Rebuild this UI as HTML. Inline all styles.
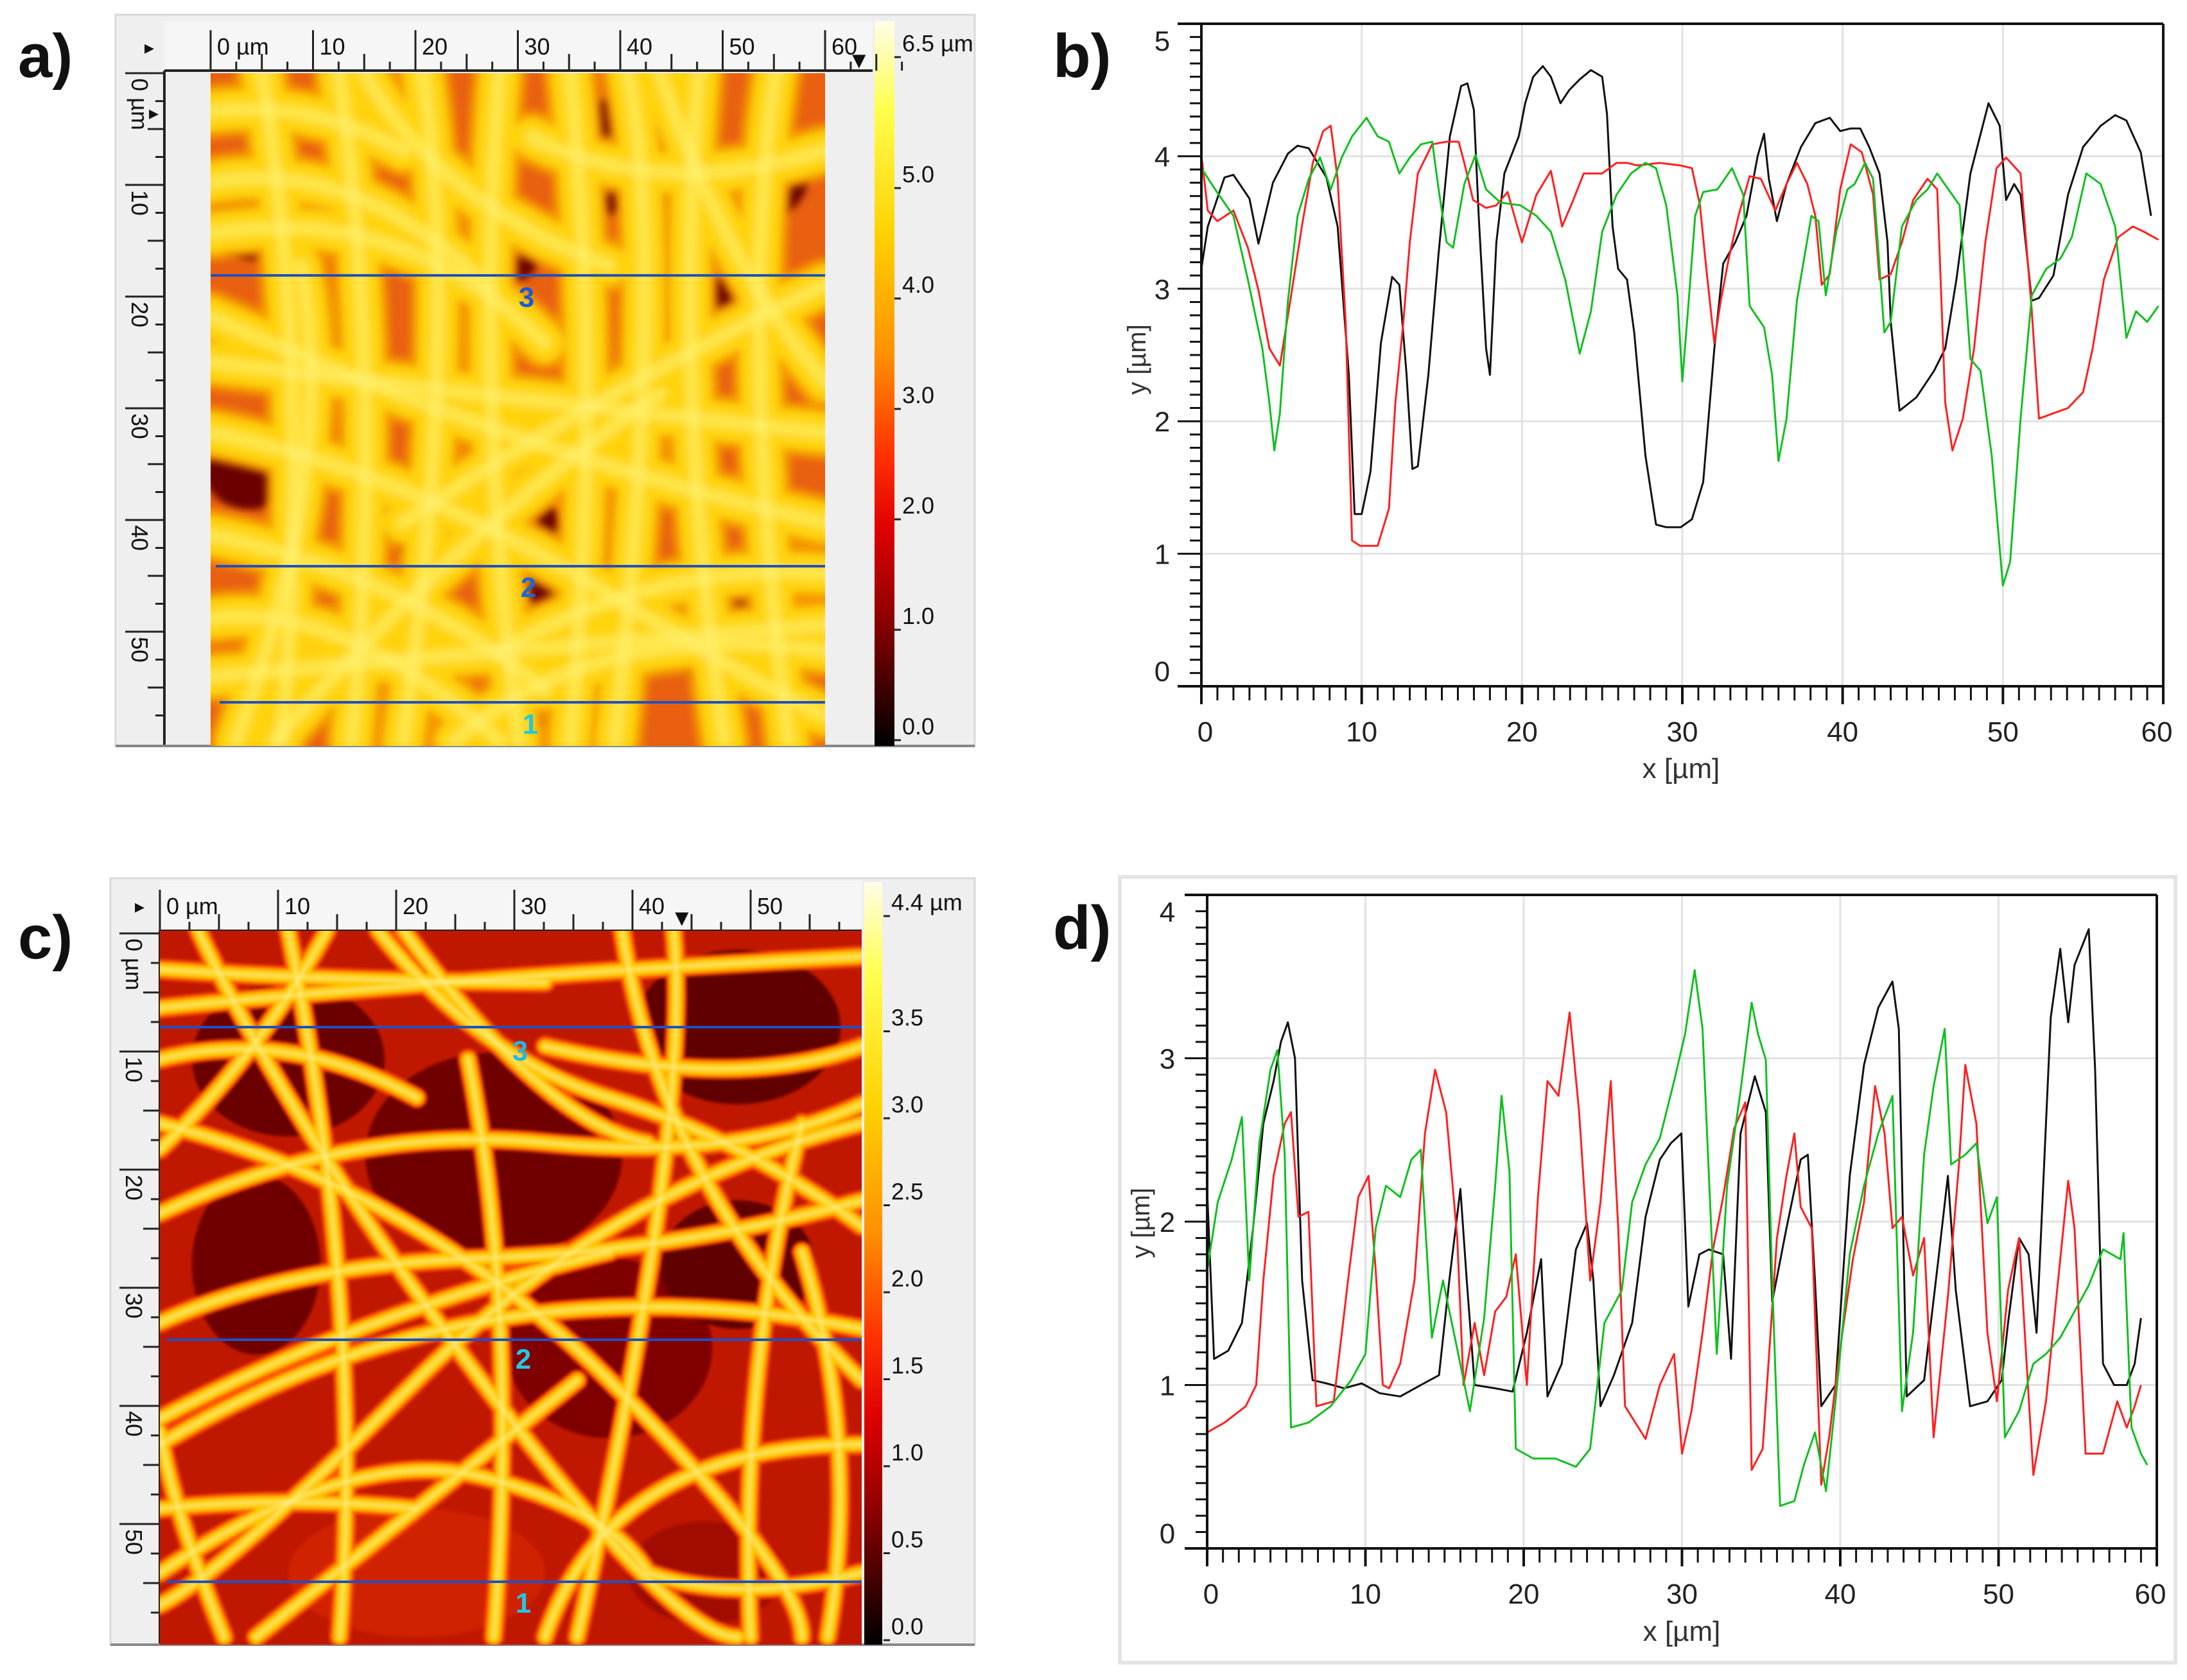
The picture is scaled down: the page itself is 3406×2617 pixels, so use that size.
<!DOCTYPE html>
<html><head><meta charset="utf-8">
<style>
html,body{margin:0;padding:0;background:#fff;overflow:hidden;width:3406px;height:2617px;}
svg{display:block;font-family:"Liberation Sans",Arial,sans-serif;}
</style></head>
<body>
<svg id="fig" xmlns="http://www.w3.org/2000/svg" width="3406" height="2617" viewBox="0 0 3406 2617">
<defs>
<linearGradient id="cbA" x1="0" y1="0" x2="0" y2="1">
<stop offset="0" stop-color="#fffde8"/><stop offset="0.12" stop-color="#ffff50"/><stop offset="0.3" stop-color="#ffd000"/>
<stop offset="0.46" stop-color="#ff9000"/><stop offset="0.6" stop-color="#ff3000"/><stop offset="0.7" stop-color="#e00000"/>
<stop offset="0.82" stop-color="#900000"/><stop offset="0.92" stop-color="#400000"/><stop offset="1" stop-color="#000"/>
</linearGradient>
<clipPath id="clipA"><rect x="328" y="114" width="957" height="1048"/></clipPath>
<clipPath id="clipC"><rect x="249" y="1450" width="1093" height="1112"/></clipPath>
<filter id="blurA"><feGaussianBlur stdDeviation="6"/></filter>
<filter id="blurC"><feGaussianBlur stdDeviation="2.5"/></filter>
</defs>

<text x="28" y="120" font-size="96" font-weight="bold" fill="#111">a)</text>
<text x="1640" y="120" font-size="96" font-weight="bold" fill="#111">b)</text>
<text x="28" y="1493" font-size="96" font-weight="bold" fill="#111">c)</text>
<text x="1640" y="1478" font-size="96" font-weight="bold" fill="#111">d)</text>

<g>
<rect x="180" y="23" width="1338" height="1139" fill="#efefef" stroke="#d8d8d8" stroke-width="3"/>
<rect x="256" y="33" width="1103" height="77" fill="#f6f6f6"/>
<line x1="256" y1="110" x2="1359" y2="110" stroke="#222" stroke-width="4"/>
<line x1="256" y1="110" x2="256" y2="1162" stroke="#222" stroke-width="4"/>
<line x1="180" y1="1162" x2="1518" y2="1162" stroke="#888" stroke-width="4"/>
<g id="imgA" clip-path="url(#clipA)"></g>
<rect x="1362" y="33" width="31" height="1129" fill="url(#cbA)"/>
<g id="rulerA"></g>
<text x="225" y="84" font-size="30" fill="#111">▸</text>
<text x="1320" y="106" font-size="36" fill="#111">▼</text>
<text x="232" y="186" font-size="30" fill="#111">▸</text>
</g>

<g>
<rect x="172" y="1368" width="1346" height="1194" fill="#efefef" stroke="#d8d8d8" stroke-width="3"/>
<rect x="249" y="1372" width="1093" height="78" fill="#f6f6f6"/>
<line x1="249" y1="1450" x2="1342" y2="1450" stroke="#222" stroke-width="4"/>
<line x1="249" y1="1450" x2="249" y2="2562" stroke="#222" stroke-width="4"/>
<line x1="172" y1="2562" x2="1518" y2="2562" stroke="#888" stroke-width="4"/>
<g id="imgC" clip-path="url(#clipC)"></g>
<rect x="1346" y="1374" width="28" height="1188" fill="url(#cbA)"/>
<g id="rulerC"></g>
<text x="210" y="1422" font-size="30" fill="#111">▸</text>
<text x="1044" y="1442" font-size="36" fill="#111">▼</text>
</g>

<g id="chartB"></g>
<g id="chartD"></g>
<rect x="1744" y="1366" width="1644" height="1224" fill="none" stroke="#e4e4e4" stroke-width="6"/>
</svg>
<script>
const bBlackX=[0,0.4,1.44,2,3,3.56,4.46,5.4,6,6.7,7.8,8.5,9.2,9.56,10,10.55,11.2,11.9,12.35,12.8,13.16,13.5,14.16,14.8,15.5,16.2,16.6,17,17.3,17.76,18,18.4,18.9,19.8,20.2,20.7,21.3,21.8,22.4,22.95,23.6,24.3,25,25.3,25.65,26,26.55,27,27.7,28.36,29,29.9,30.6,31.3,32,32.55,33.3,34,34.7,35.1,35.4,35.9,36.5,37.4,38.3,39.2,39.85,40.5,41.1,41.66,42.3,42.8,43,43.55,44.6,45.7,46.4,47.1,47.97,49.1,49.8,50.2,50.7,51.1,51.8,52.25,53.15,54.06,55,56.1,57,57.7,58.6,59.24];
const bBlackY=[3.15,3.47,3.84,3.86,3.68,3.34,3.8,4.02,4.08,4.06,3.84,3.47,2.35,1.3,1.3,1.62,2.59,3.09,3.03,2.35,1.64,1.66,2.35,3.27,4.15,4.53,4.55,4.35,3.55,2.55,2.35,3.35,3.87,4.15,4.4,4.6,4.68,4.6,4.4,4.5,4.58,4.65,4.6,4.32,3.47,3.15,3.07,2.67,1.74,1.22,1.2,1.2,1.26,1.54,2.55,3.19,3.35,3.55,4.0,4.17,3.83,3.51,3.79,4.07,4.25,4.29,4.19,4.21,4.21,4.07,3.87,3.35,2.75,2.08,2.18,2.38,2.55,3.07,3.87,4.4,4.23,3.67,3.79,3.71,2.91,2.93,3.1,3.71,4.07,4.23,4.31,4.27,4.03,3.55];
const bRedX=[0,0.4,1,2,2.9,3.56,4.24,4.9,5.6,6.27,6.95,7.6,8.07,8.5,9,9.4,9.9,11,11.7,12.1,12.6,13,13.5,14.4,15.3,16.05,16.4,16.95,17.76,18.4,19.1,20,20.9,21.8,22.5,23.2,23.85,25,25.9,26.55,27.2,28.6,29.9,30.6,31.1,31.5,32,32.4,32.9,33.5,34.2,34.9,35.8,36.5,37.15,37.8,38.3,38.7,39.2,39.85,40.5,41.2,41.9,42.3,43,43.7,44.4,45.3,45.9,46.4,46.85,47.5,48.2,48.9,49.6,50.2,51.1,51.8,52.25,53.15,54.06,55,55.6,56.3,57.2,58.1,58.8,59.7];
const bRedY=[4.01,3.59,3.51,3.59,3.31,2.99,2.55,2.42,2.95,3.47,3.95,4.19,4.23,3.83,2.75,1.1,1.06,1.06,1.34,2.14,2.75,3.35,3.87,4.09,4.11,4.11,3.95,3.67,3.61,3.63,3.73,3.35,3.71,3.89,3.47,3.67,3.87,3.87,3.95,3.95,3.93,3.95,3.93,3.91,3.63,3.15,2.59,2.91,3.23,3.55,3.85,3.83,3.59,3.79,3.95,3.79,3.55,3.03,3.11,3.75,4.09,4.03,3.71,3.07,3.11,3.35,3.67,3.83,3.75,2.14,1.78,2.02,2.55,3.35,3.91,3.99,3.87,2.83,2.02,2.06,2.1,2.22,2.55,3.07,3.39,3.47,3.43,3.37];
const bGreenX=[0,0.86,2,2.9,3.8,4.24,4.55,4.9,5.4,6,6.7,7.4,8.07,8.75,9.4,10.3,11,11.7,12.35,13,13.7,14.4,14.8,15.3,15.7,16.4,17.1,17.76,18.66,19.9,20.9,21.8,22.7,23.6,24.3,25,25.9,26.8,27.7,28.36,29,29.7,30,30.4,30.8,31.3,32.2,33.1,33.8,34.2,35.1,35.6,36,36.5,37.15,38.05,38.5,38.95,39.6,40.3,40.75,41.4,41.9,42.6,43,43.7,44.6,45.3,45.9,46.6,47.3,47.97,48.6,49.3,50,50.45,51.1,51.8,52.7,53.6,54.3,55.2,56.1,57,57.7,58.3,59,59.7];
const bGreenY=[3.91,3.75,3.55,3.07,2.55,2.14,1.78,2.06,2.91,3.55,3.83,3.99,3.75,3.99,4.15,4.29,4.15,4.11,3.87,3.99,4.09,4.11,3.75,3.35,3.31,3.79,4.01,3.75,3.65,3.63,3.55,3.43,3.07,2.51,2.83,3.43,3.71,3.87,3.95,3.91,3.63,2.95,2.3,2.91,3.55,3.73,3.75,3.91,3.71,2.87,2.71,2.35,1.7,2.02,2.91,3.55,3.51,2.95,3.43,3.75,3.79,3.95,3.83,2.67,2.75,3.47,3.67,3.75,3.87,3.75,3.63,2.47,2.38,1.74,0.76,0.94,2.02,2.95,3.15,3.23,3.39,3.87,3.79,3.47,2.63,2.83,2.75,2.87];
const bYTicks=[0,1,2,3,4,5];
const bXTicks=[0,10,20,30,40,50,60];

const dBlackX=[0,0.44,1.33,2.2,2.9,3.55,4.2,4.66,5.1,5.55,6,6.66,7.55,8.65,9.76,10.9,12.2,13.5,14.65,15.3,16,16.4,16.9,18.2,19.3,20.2,21.1,21.5,22.4,23.3,24,24.4,24.85,25.7,26.85,27.7,28.6,29.3,29.96,30.4,31.1,31.7,32.6,33.1,33.7,34.6,35.3,35.7,36.6,37.5,37.95,38.4,38.8,39.7,40.6,41.5,42.4,43.3,43.7,44.2,45.3,46.2,46.8,47.3,48.2,49.3,50.2,50.6,51.3,51.9,52.4,53.3,53.9,54.4,54.8,55.7,56.1,56.6,57.3,58.1,58.6,59];
const dBlackY=[2.19,1.16,1.21,1.38,1.96,2.6,2.86,3.1,3.22,3.0,1.64,1.03,1.01,0.98,1.01,0.95,0.93,1.0,1.06,1.64,2.2,1.64,1.0,0.98,0.96,1.32,1.77,0.93,1.13,1.83,1.99,1.64,0.87,1.06,1.38,2.03,2.38,2.48,2.54,1.48,1.8,1.83,1.8,1.16,2.54,2.89,2.67,1.51,1.96,2.38,2.41,1.64,0.87,1.0,2.28,2.96,3.31,3.47,3.18,0.93,1.03,1.77,2.28,1.58,0.87,0.9,1.03,1.38,1.9,1.8,1.32,3.25,3.67,3.22,3.57,3.79,2.93,1.13,1.0,1.0,1.13,1.41];
const dRedX=[0,1.1,2.44,3.1,3.55,4.2,4.9,5.3,5.77,6.4,6.9,8,8.9,9.55,10.2,10.65,11.1,11.5,12.2,13.1,13.76,14.4,15.1,15.8,16.2,16.9,17.5,18.2,18.9,19.5,20.2,20.9,21.5,22.2,22.9,23.5,24.2,24.85,25.5,25.97,26.4,27.7,28.6,29.5,30,30.6,31.3,31.96,32.6,33.3,34,34.4,35.1,36,36.6,37.1,37.5,38.2,38.8,39.3,39.9,40.8,41.5,42.2,42.8,43.3,43.9,44.6,45.3,45.9,46.8,47.5,47.9,48.6,49.3,49.9,50.6,51.3,52.2,53,53.7,54.4,54.8,55.5,56.6,57.5,58.1,58.6,59];
const dRedY=[0.71,0.77,0.87,1.0,1.64,2.28,2.6,2.67,2.03,2.06,0.87,0.9,1.64,2.15,2.28,1.7,1.0,0.98,1.13,1.64,2.54,2.93,2.67,1.9,1.0,1.38,1.06,1.45,1.54,1.8,1.0,2.15,2.86,2.77,3.28,2.67,1.64,2.12,2.86,1.96,0.87,0.67,1.0,1.19,0.58,0.84,1.32,1.83,2.15,2.57,2.73,0.48,0.61,1.9,2.28,2.54,2.09,1.96,0.39,0.68,1.16,1.77,2.12,2.83,2.54,1.96,2.03,1.67,1.9,0.68,1.54,2.35,2.96,2.6,1.32,0.9,1.58,1.9,0.45,0.9,1.58,2.25,1.96,0.58,0.58,0.9,0.74,0.87,1.0];
const dGreenX=[0,0.67,1.55,2.2,2.66,3.3,4,4.44,4.9,5.3,6.4,7.8,9.1,10,10.65,11.3,12.2,12.9,13.5,14.2,14.9,15.8,16.6,17.5,18.2,18.6,19.1,19.5,20.6,22,23.3,24.2,25.1,26.2,26.85,27.7,28.6,29.5,30.2,30.8,31.3,31.7,32.2,32.85,33.7,34.4,34.8,35.3,35.7,36.2,37.1,37.7,38.4,39.1,39.7,40.6,41.5,42.4,43.3,43.9,44.6,45.3,45.9,46.6,47,47.9,48.6,49.3,49.9,50.4,51.3,52.2,53,53.9,54.8,55.7,56.6,57.7,57.9,58.4,59,59.4];
const dGreenY=[1.7,2.12,2.38,2.64,1.64,2.48,2.93,3.05,2.41,0.74,0.77,0.87,1.03,1.19,1.96,2.22,2.15,2.38,2.44,1.29,1.64,1.22,0.84,1.41,2.22,2.77,2.31,0.61,0.55,0.55,0.5,0.61,1.38,1.58,2.12,2.35,2.51,2.86,3.15,3.54,3.18,2.28,1.19,2.22,2.8,3.34,3.15,2.99,1.64,0.26,0.29,0.51,0.71,0.35,0.9,1.8,2.22,2.54,2.77,0.84,1.32,2.41,2.83,3.18,2.35,2.41,2.48,1.99,2.15,0.68,0.84,1.13,1.19,1.29,1.45,1.61,1.83,1.77,1.93,0.74,0.58,0.51];
const dYTicks=[0,1,2,3,4];
const dXTicks=[0,10,20,30,40,50,60];

const aRulerTicks=[0,10,20,30,40,50,60];
const aRulerRows=[0,10,20,30,40,50];
const aColorbarValues=[6.5,5.0,4.0,3.0,2.0,1.0,0.0];
const aColorbarLabels=["6.5 µm","5.0","4.0","3.0","2.0","1.0","0.0"];
const cRulerTicks=[0,10,20,30,40,50];
const cRulerRows=[0,10,20,30,40,50];
const cColorbarValues=[4.4,3.5,3.0,2.5,2.0,1.5,1.0,0.5,0.0];
const cColorbarLabels=["4.4 µm","3.5","3.0","2.5","2.0","1.5","1.0","0.5","0.0"];

const NS="http://www.w3.org/2000/svg";
function mk(tag,attrs,parent){const e=document.createElementNS(NS,tag);for(const k in attrs)e.setAttribute(k,attrs[k]);if(parent)parent.appendChild(e);return e;}

function drawChart(gid,L,R,T,B,ymax,yTicks,xTicks,series,tickLeft,labelPos){
  const g=document.getElementById(gid);
  const sx=x=>L+x/60*(R-L), sy=v=>B-v/ymax*(B-T);
  for(const t of xTicks){ if(t>0&&t<60){const l=mk('line',{x1:sx(t),x2:sx(t),y1:T,y2:B,stroke:'#e2e2e2','stroke-width':3},g);
    
    }}
  for(const t of yTicks){ if(t>0&&t<ymax){const l=mk('line',{x1:L,x2:R,y1:sy(t),y2:sy(t),stroke:'#e2e2e2','stroke-width':3},g);
    
    }}
  for(const s of series){
    let d='';for(let i=0;i<s.x.length;i++)d+=(i?'L':'M')+sx(s.x[i]).toFixed(1)+','+sy(s.y[i]).toFixed(1);
    const p=mk('path',{d:d,fill:'none',stroke:s.c,'stroke-width':3,'stroke-linejoin':'round'},g);
    
    
  }
  const ax=mk('g',{stroke:'#111','stroke-width':4},g);
  
  
  mk('line',{x1:tickLeft,x2:R,y1:T,y2:T},ax);
  mk('line',{x1:tickLeft,x2:R,y1:B,y2:B},ax);
  mk('line',{x1:L,x2:L,y1:T,y2:B+28},ax);
  mk('line',{x1:R,x2:R,y1:T,y2:B+28},ax);
  for(let i=0;i<=60;i++){const x=sx(i);mk('line',{x1:x,x2:x,y1:B,y2:B+(i%10===0?28:22),'stroke-width':i%10===0?4:3},ax);}
  for(let i=0;i<=ymax*10;i++){const y=sy(i/10);mk('line',{x1:L-(i%10===0?(L-tickLeft):18),x2:L,y1:y,y2:y,'stroke-width':3},ax);}
  for(const t of xTicks){const tx=mk('text',{x:sx(t)+(t===60?-10:(t===0?6:0)),y:B+86,'font-size':44,'text-anchor':'middle',fill:'#222'},g);tx.textContent=t;
    
    }
  for(const t of yTicks){let y=sy(t)+16; if(t===0)y-=24; if(t===ymax)y+=26;
    const ty=mk('text',{x:labelPos.yx,y:y,'font-size':44,'text-anchor':'middle',fill:'#222'},g);ty.textContent=t;
    
    }
  const xt=mk('text',{x:labelPos.xtx,y:labelPos.xty,'font-size':44,'text-anchor':'middle',fill:'#333'},g);xt.textContent='x [µm]';
  
  
  const yt=mk('text',{x:0,y:0,'font-size':40,'text-anchor':'middle',fill:'#333',transform:'translate('+labelPos.ytx+','+labelPos.yty+') rotate(-90)'},g);yt.textContent='y [µm]';
  
  
}

drawChart('chartB',1871,3369,37,1069,5,bYTicks,bXTicks,[
  {x:bBlackX,y:bBlackY,c:'#111',n:'profile-line-1-black'},
  {x:bRedX,y:bRedY,c:'#ff2020',n:'profile-line-2-red'},
  {x:bGreenX,y:bGreenY,c:'#10c020',n:'profile-line-3-green'}],1834,{yx:1810,xtx:2618,xty:1212,ytx:1784,yty:560});
drawChart('chartD',1880,3359,1394,2412,4,dYTicks,dXTicks,[
  {x:dBlackX,y:dBlackY,c:'#111',n:'profile-line-1-black'},
  {x:dRedX,y:dRedY,c:'#ff2020',n:'profile-line-2-red'},
  {x:dGreenX,y:dGreenY,c:'#10c020',n:'profile-line-3-green'}],1845,{yx:1818,xtx:2619,xty:2556,ytx:1790,yty:1905});

function drawRuler(gid,x0,dx,ticks,rulerTop,rulerBot,y0,dy,rows,leftX0,leftX1,cbX,cbVals,cbLabels,cbZeroY,cbPx,cbTopY,cbBot){
  const g=document.getElementById(gid);
  const rg=mk('g',{stroke:'#222','stroke-width':3},g);
  
  
  const n=ticks[ticks.length-1];
  for(let v=0;v<=n+7.5;v+=2.5){const x=x0+v/10*dx; if(v%10===0)mk('line',{x1:x,x2:x,y1:rulerTop+14,y2:rulerBot},rg);
    else mk('line',{x1:x,x2:x,y1:rulerBot-(v%5===0?26:14),y2:rulerBot},rg);}
  for(const t of ticks){const tx=mk('text',{x:x0+t/10*dx+10,y:rulerTop+52,'font-size':36,fill:'#111',stroke:'none'},g);tx.textContent=t===0?'0 µm':t;
    
    }
  const lg=mk('g',{stroke:'#222','stroke-width':3},g);
  
  
  for(let v=0;v<=57.5;v+=2.5){const y=y0+v/10*dy; if(y>cbBot)break; if(v%10===0)mk('line',{x1:leftX0+10,x2:leftX1,y1:y,y2:y},lg);
    else mk('line',{x1:leftX1-(v%5===0?26:14),x2:leftX1,y1:y,y2:y},lg);}
  for(const t of rows){const y=y0+t/10*dy+8;const tx=mk('text',{x:0,y:0,'font-size':36,fill:'#111',transform:'translate('+(leftX0+20)+','+y+') rotate(90)'},g);tx.textContent=t===0?'0 µm':t;
    
    }
  cbVals.forEach((v,i)=>{const y=Math.max(cbTopY,cbZeroY-v*cbPx);
    const tx=mk('text',{x:cbX+8,y:y+13,'font-size':36,fill:'#111'},g);tx.textContent=cbLabels[i];
    
    
    mk('line',{x1:cbX-4,x2:cbX+6,y1:y+22,y2:y+22,stroke:'#222','stroke-width':3},g);});
}
drawRuler('rulerA',328,159.5,aRulerTicks,33,110,114,174,aRulerRows,185,256,1397,aColorbarValues,aColorbarLabels,1131,172,67,1162);
drawRuler('rulerC',249,184,cRulerTicks,1372,1450,1454,184,cRulerRows,176,249,1380,cColorbarValues,cColorbarLabels,2533,271,1405,2562);

function fibers(gid,x0,y0,w,h,base,darks,paths,wOuter,wInner,cOuter,cInner,cHi,filt){
  const g=document.getElementById(gid);
  mk('rect',{x:x0,y:y0,width:w,height:h,fill:base},g);
  const dg=mk('g',{filter:filt},g);
  for(const d of darks)mk('ellipse',{cx:x0+d[0],cy:y0+d[1],rx:d[2],ry:d[3],fill:d[4]||'#6a0500'},dg);
  const fg=mk('g',{filter:filt,fill:'none','stroke-linecap':'round',transform:'translate('+x0+','+y0+')'},g);
  for(const p of paths){mk('path',{d:p,stroke:cOuter,'stroke-width':wOuter},fg);}
  for(const p of paths){mk('path',{d:p,stroke:cInner,'stroke-width':wInner},fg);}
  for(const p of paths){mk('path',{d:p,stroke:cHi,'stroke-width':wInner*0.35,opacity:0.6},fg);}
}
fibers('imgA',328,114,957,1048,'#e86010',
 [[620,130,60,90],[70,240,60,50],[450,290,60,40],[780,360,60,50],[60,620,70,60],[330,680,50,80],[520,760,40,90],[800,880,70,80],[270,980,50,60],[480,1000,40,40],[880,160,50,60]],
 ['M0,250 Q300,200 520,420','M0,170 Q220,130 430,330','M80,0 Q160,500 110,1040','M200,0 Q270,500 220,1040','M330,0 Q390,400 300,1040',
  'M450,0 Q410,500 480,1040','M560,0 Q610,500 560,1040','M650,0 Q710,300 630,1040','M760,0 Q720,500 800,1040','M880,0 Q820,400 900,1040',
  'M0,450 Q400,500 957,560','M0,560 Q300,620 600,800 T957,1000','M0,720 Q300,780 520,960','M0,850 Q200,820 450,1040','M957,330 Q600,500 300,700',
  'M957,780 Q700,760 450,900','M0,380 Q500,600 957,700','M100,1040 Q400,700 700,500','M957,120 Q700,200 500,100','M240,0 Q350,200 620,300',
  'M0,60 Q150,40 300,120','M957,480 Q800,300 700,0','M0,940 Q450,900 957,860','M380,1040 Q600,850 957,900','M140,300 Q200,600 40,1040'],
 84,60,'#f59a00','#ffd410','#fff070','url(#blurA)');
fibers('imgC',249,1450,1093,1112,'#c01800',
 [[200,200,150,120,'#6a0000'],[520,350,200,160,'#700000'],[900,150,160,120,'#600000'],[700,650,160,140,'#800000'],[150,520,100,140,'#700000'],[900,520,120,100,'#600000'],[400,1000,200,100,'#d02000'],[850,1000,120,80,'#a00800']],
 ['M0,60 Q300,80 600,80','M0,120 Q500,70 1093,40','M340,0 Q500,200 700,260 T1093,460','M380,0 Q600,300 760,330','M0,440 Q300,300 600,330 T1093,270',
  'M0,610 Q200,520 500,510 T1093,420','M720,0 Q780,400 1093,700','M800,0 Q830,300 650,1100','M1093,300 Q700,400 400,700 T0,1050','M0,800 Q500,500 1093,620',
  'M60,0 Q200,300 500,700 T900,1100','M0,300 Q400,400 700,700 T1000,1100','M280,1100 Q320,600 200,0','M520,1100 Q560,600 480,200','M0,1000 Q300,800 500,850 T760,1000 Q900,1050 1093,1000',
  'M0,760 Q300,600 700,500','M920,1100 Q900,700 1000,300','M1093,180 Q900,250 600,180','M100,1100 Q20,900 0,780','M0,340 Q150,200 260,0',
  'M600,1100 Q700,800 1093,800','M0,900 Q200,880 400,900','M1040,1100 Q1093,800 1000,500','M150,1100 Q400,900 650,700','M0,200 Q200,150 400,260'],
 32,20,'#ff5a00','#ffc800','#fff080','url(#blurC)');

function profile(y,x0,x1,lab,lx,ly,col,name){
  const l=mk('line',{x1:x0,x2:x1,y1:y,y2:y,stroke:'#2050c0','stroke-width':4},document.getElementById('fig'));
  
  
  const t=mk('text',{x:lx,y:ly,'font-size':44,'font-weight':'bold',fill:col,'text-anchor':'middle'},document.getElementById('fig'));t.textContent=lab;
  
  
}
profile(429,328,1285,'3',820,478,'#1a5ad8','profile-line-3-a');
profile(882,336,1285,'2',823,930,'#1a6ad8','profile-line-2-a');
profile(1094,342,1285,'1',826,1143,'#20c8e0','profile-line-1-a');
profile(1600,249,1342,'3',810,1652,'#20b8e8','profile-line-3-c');
profile(2087,260,1342,'2',815,2132,'#20c8e8','profile-line-2-c');
profile(2464,260,1342,'1',815,2512,'#20c8e8','profile-line-1-c');
</script>
</body></html>
